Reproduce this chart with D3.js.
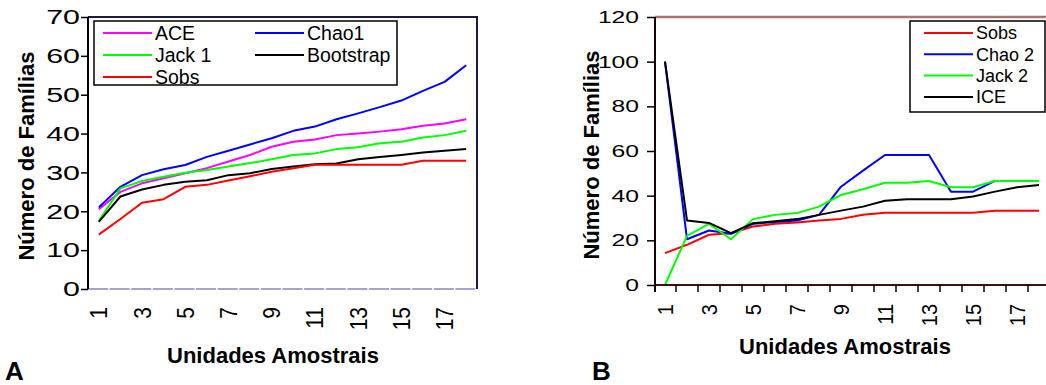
<!DOCTYPE html>
<html>
<head>
<meta charset="utf-8">
<script src="https://cdn.jsdelivr.net/npm/d3@7"></script>
<style>
  body { margin: 0; background: #fff; }
  svg { display: block; font-family: "Liberation Sans", Arial, sans-serif; }
</style>
</head>
<body>
<svg id="chart" width="1046" height="385"></svg>
<script>
// unidades amostrais 1..18
const unidades = [1, 2, 3, 4, 5, 6, 7, 8, 9, 10, 11, 12, 13, 14, 15, 16, 17, 18];
const xTickLabels = [1, 3, 5, 7, 9, 11, 13, 15, 17];

// painel A
const aceA = [20.5, 25, 27.2, 28.5, 29.8, 31.1, 32.8, 34.5, 36.6, 37.9, 38.5, 39.6, 40, 40.5, 41.1, 42, 42.6, 43.7];
const chao1A = [21, 26.3, 29.3, 30.8, 31.9, 34, 35.6, 37.2, 38.8, 40.7, 41.8, 43.7, 45.2, 46.8, 48.5, 51, 53.3, 57.6];
const jack1A = [17.5, 25.9, 27.8, 28.9, 29.9, 30.6, 31.5, 32.4, 33.4, 34.5, 34.9, 36, 36.5, 37.5, 37.9, 39, 39.6, 40.7];
const bootstrapA = [17.3, 23.8, 25.6, 26.8, 27.6, 28, 29.3, 29.8, 30.9, 31.5, 32.1, 32.3, 33.4, 34, 34.5, 35.1, 35.6, 36];
const sobsA = [14, 18, 22.2, 23.1, 26.3, 26.8, 27.9, 29, 30.2, 31.1, 32, 32, 32, 32, 32, 33, 33, 33];
const yTicksA = [0, 10, 20, 30, 40, 50, 60, 70];

// painel B
const sobsB = [14.3, 18, 22.5, 23.2, 26.2, 27.4, 28, 28.9, 29.6, 31.5, 32.4, 32.4, 32.4, 32.4, 32.4, 33.3, 33.3, 33.3];
const chao2B = [100, 20.5, 24.4, 22.9, 27.4, 28.2, 28.9, 31.4, 44, 51.2, 58.2, 58.2, 58.2, 41.8, 41.8, 46.6, 46.6, 46.6];
const jack2B = [0, 22, 27.4, 20.5, 29.5, 31.4, 32.2, 35.1, 40.3, 42.9, 45.8, 45.8, 46.6, 43.8, 43.8, 46.6, 46.6, 46.6];
const iceB = [100, 28.9, 27.8, 23.2, 27.7, 28.5, 29.5, 31.4, 33.3, 35.1, 37.7, 38.4, 38.4, 38.4, 39.6, 41.8, 43.8, 44.8];
const yTicksB = [0, 20, 40, 60, 80, 100, 120];

const svg = d3.select("#chart");

function drawSeries(g, x, y, series) {
  const line = d3.line()
    .x((d, i) => x(unidades[i]) + x.bandwidth() / 2)
    .y((d) => y(d));
  series.forEach((s) => {
    g.append("path")
      .datum(s.values)
      .attr("fill", "none")
      .attr("stroke", s.color)
      .attr("stroke-width", 2)
      .attr("stroke-linejoin", "round")
      .attr("d", line);
  });
}

function yAxis(g, y, ticks, labelOff, fontSize, tickLen) {
  g.call(d3.axisLeft(y).tickValues(ticks).tickSize(tickLen).tickSizeOuter(0))
    .call((a) => a.select(".domain").remove());
  g.selectAll(".tick line").attr("stroke", "#000").attr("stroke-width", 1.5);
  // rótulos do eixo y ficam esticados na horizontal
  g.selectAll(".tick text")
    .attr("x", null)
    .attr("fill", "#000")
    .attr("font-size", fontSize)
    .attr("font-family", "Liberation Sans, Arial, sans-serif")
    .attr("transform", `translate(${-labelOff},0) scale(1.45,1)`);
}

function xLabels(g, x, yPos, fontSize) {
  g.selectAll("text.xl")
    .data(xTickLabels)
    .join("text")
    .attr("class", "xl")
    .attr("transform", (d) => `translate(${x(d) + x.bandwidth() / 2},${yPos}) rotate(-90) scale(1,1.12)`)
    .attr("text-anchor", "end")
    .attr("dy", "0.36em")
    .attr("font-size", fontSize)
    .text((d) => d);
}

function legend(g, box, items, cols) {
  g.append("rect")
    .attr("x", box.x).attr("y", box.y)
    .attr("width", box.w).attr("height", box.h)
    .attr("fill", "#fff").attr("stroke", "#000").attr("stroke-width", 1.5);
  items.forEach((it, i) => {
    const col = Math.floor(i / cols.rows);
    const row = i % cols.rows;
    const lx = cols.x[col];
    const ly = box.y + 12 + row * cols.dy;
    g.append("line")
      .attr("x1", lx).attr("x2", lx + cols.len)
      .attr("y1", ly).attr("y2", ly)
      .attr("stroke", it.color).attr("stroke-width", 2);
    g.append("text")
      .attr("x", lx + cols.len + 3).attr("y", ly)
      .attr("dy", "0.36em")
      .attr("font-size", cols.font)
      .text(it.name);
  });
}

// ---------- painel A ----------
const xA = d3.scaleBand().domain(unidades).range([88, 477]);
const yA = d3.scaleLinear().domain([0, 70]).range([289, 17]);
const gA = svg.append("g");

// eixo inferior lavanda tracejado
gA.append("line")
  .attr("x1", 88).attr("x2", 477).attr("y1", yA(0)).attr("y2", yA(0))
  .attr("stroke", "#a3a3d3").attr("stroke-width", 2)
  .attr("stroke-dasharray", `${xA.bandwidth() - 1.6},1.6`);
// moldura superior e direita
gA.append("path")
  .attr("d", `M88,${yA(70)}H477V${yA(0)}`)
  .attr("fill", "none").attr("stroke", "#1a1a4a").attr("stroke-width", 2);

drawSeries(gA, xA, yA, [
  { values: aceA, color: "#ff00ff" },
  { values: chao1A, color: "#0000ff" },
  { values: jack1A, color: "#00ff00" },
  { values: bootstrapA, color: "#000000" },
  { values: sobsA, color: "#ff0000" },
]);

gA.append("line")
  .attr("x1", 88).attr("x2", 88).attr("y1", yA(70)).attr("y2", yA(0))
  .attr("stroke", "#000").attr("stroke-width", 2);
yAxis(gA.append("g").attr("transform", "translate(88,0)"), yA, yTicksA, 8, 21, 7);
xLabels(gA, xA, 307, 21);

legend(gA, { x: 94, y: 21, w: 303, h: 64 }, [
  { name: "ACE", color: "#ff00ff" },
  { name: "Jack 1", color: "#00ff00" },
  { name: "Sobs", color: "#ff0000" },
  { name: "Chao1", color: "#0000ff" },
  { name: "Bootstrap", color: "#000000" },
], { rows: 3, x: [103, 255], len: 49, dy: 22, font: 19.5 });

gA.append("text")
  .attr("transform", `translate(34,156) rotate(-90)`)
  .attr("text-anchor", "middle")
  .attr("font-size", 22).attr("font-weight", "bold")
  .text("Número de Famílias");
gA.append("text")
  .attr("x", 273).attr("y", 363)
  .attr("text-anchor", "middle")
  .attr("font-size", 22).attr("font-weight", "bold")
  .text("Unidades Amostrais");
gA.append("text")
  .attr("x", 5).attr("y", 380)
  .attr("font-size", 26).attr("font-weight", "bold")
  .text("A");

// ---------- painel B ----------
const xB = d3.scaleBand().domain(unidades).range([654, 1050]);
const yB = d3.scaleLinear().domain([0, 120]).range([285, 17]);
const gB = svg.append("g");

gB.append("line")
  .attr("x1", 655).attr("x2", 1046).attr("y1", yB(120)).attr("y2", yB(120))
  .attr("stroke", "#a87474").attr("stroke-width", 2.5);

drawSeries(gB, xB, yB, [
  { values: sobsB, color: "#ff0000" },
  { values: chao2B, color: "#0000ff" },
  { values: jack2B, color: "#00ff00" },
  { values: iceB, color: "#000000" },
]);

// eixo inferior com marcas entre as unidades
gB.append("line")
  .attr("x1", 655).attr("x2", 1046).attr("y1", yB(0)).attr("y2", yB(0))
  .attr("stroke", "#3a1010").attr("stroke-width", 2);
gB.selectAll("line.xt")
  .data(unidades.slice(1))
  .join("line")
  .attr("class", "xt")
  .attr("x1", (d) => xB(d)).attr("x2", (d) => xB(d))
  .attr("y1", yB(0)).attr("y2", yB(0) + 7)
  .attr("stroke", "#000").attr("stroke-width", 1.5);
gB.append("line")
  .attr("x1", 655).attr("x2", 655).attr("y1", yB(120)).attr("y2", yB(0) + 7)
  .attr("stroke", "#1a0000").attr("stroke-width", 2);
yAxis(gB.append("g").attr("transform", "translate(655,0)"), yB, yTicksB, 16, 17, 8);
xLabels(gB, xB, 304, 20);

legend(gB, { x: 910, y: 21, w: 135, h: 91 }, [
  { name: "Sobs", color: "#ff0000" },
  { name: "Chao 2", color: "#0000ff" },
  { name: "Jack 2", color: "#00ff00" },
  { name: "ICE", color: "#000000" },
], { rows: 4, x: [924], len: 49, dy: 21.3, font: 18 });

gB.append("text")
  .attr("transform", `translate(599,155) rotate(-90)`)
  .attr("text-anchor", "middle")
  .attr("font-size", 22).attr("font-weight", "bold")
  .text("Número de Famílias");
gB.append("text")
  .attr("x", 845).attr("y", 354)
  .attr("text-anchor", "middle")
  .attr("font-size", 22).attr("font-weight", "bold")
  .text("Unidades Amostrais");
gB.append("text")
  .attr("x", 592).attr("y", 380)
  .attr("font-size", 26).attr("font-weight", "bold")
  .text("B");
</script>
</body>
</html>
